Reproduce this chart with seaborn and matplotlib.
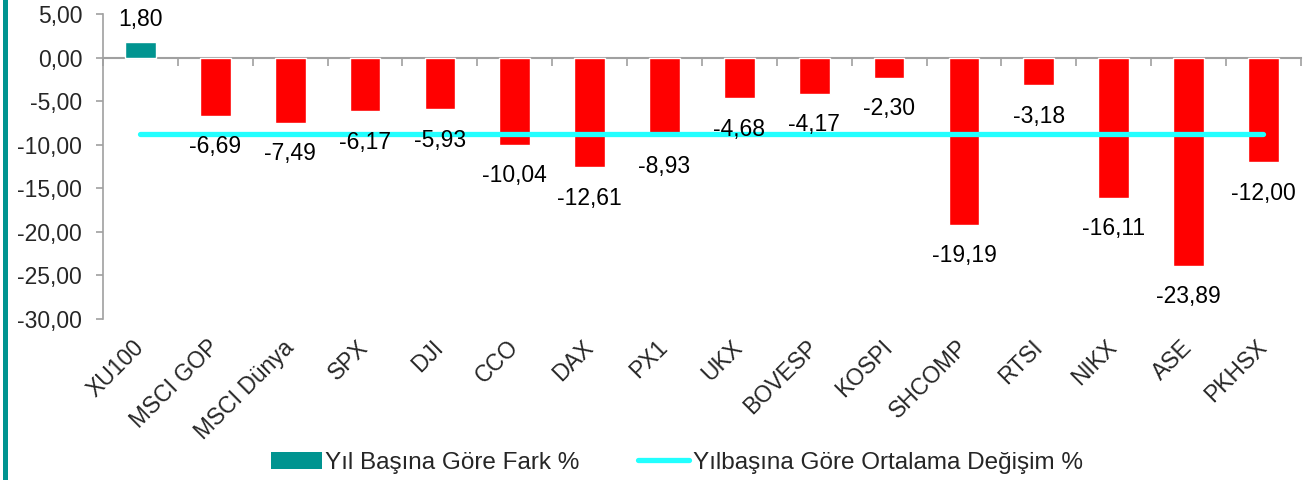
import numpy as np
import matplotlib
matplotlib.use("Agg")
import matplotlib.pyplot as plt
import seaborn as sns
from matplotlib.patches import Patch, Rectangle
from matplotlib.lines import Line2D
from matplotlib.ticker import FuncFormatter, FixedLocator, NullFormatter

# data
indices = ["XU100", "MSCI GOP", "MSCI Dünya", "SPX", "DJI", "CCO", "DAX", "PX1",
           "UKX", "BOVESP", "KOSPI", "SHCOMP", "RTSI", "NIKX", "ASE", "PKHSX"]
ytd_change = [1.80, -6.69, -7.49, -6.17, -5.93, -10.04, -12.61, -8.93,
              -4.68, -4.17, -2.30, -19.19, -3.18, -16.11, -23.89, -12.00]
avg_change = -8.8

bar_label_name = "Yıl Başına Göre Fark %"
line_label_name = "Yılbaşına Göre Ortalama Değişim %"

teal = "#009490"
red = "#FF0000"
cyan = "#22FFFF"
grey = "#A0A0A0"
fs = 16.5

sns.set_style("white")
plt.rcParams['font.family'] = ['Liberation Sans', 'DejaVu Sans']

fig = plt.figure(figsize=(13.14, 4.8), dpi=100)
ax = fig.add_axes([0.0784, 0.3354, 0.9116, 0.6356])

colors = [teal if v > 0 else red for v in ytd_change]
sns.barplot(x=indices, y=ytd_change, hue=indices, palette=colors, legend=False,
            width=0.41, saturation=1, ax=ax)

def fmt(v):
    return f"{v:.2f}".replace(".", ",")

# one container per bar (hue = category)
for cont in ax.containers:
    v = cont.datavalues[0]
    ax.bar_label(cont, labels=[fmt(v)], padding=7.5 if v > 0 else 14,
                 fontsize=fs, color="black", zorder=4)

n = len(indices)
ax.plot([0, n - 1], [avg_change, avg_change], color=cyan, lw=3.8,
        solid_capstyle="round", zorder=2.5)

ax.set_ylim(-30, 5)
ax.set_xlim(-0.5, n - 0.5)
ax.set_yticks(np.arange(-30, 5.1, 5))
ax.yaxis.set_major_formatter(FuncFormatter(lambda v, p: fmt(v)))
ax.tick_params(axis="y", direction="out", length=5, color=grey, width=1.2,
               labelsize=fs, pad=10, left=True)

for s in ["top", "right", "bottom"]:
    ax.spines[s].set_visible(False)
ax.spines["left"].set_color(grey)
ax.spines["left"].set_linewidth(1.2)

ax.set_xlabel("")
ax.set_ylabel("")
ax.tick_params(axis="x", length=0, labelsize=fs, pad=18)
for lab in ax.get_xticklabels():
    lab.set_rotation(45)
    lab.set_ha("right")
    lab.set_va("center")
    lab.set_rotation_mode("anchor")

# zero line with ticks between categories
sec = ax.secondary_xaxis(0, transform=ax.transData)
sec.spines["bottom"].set_color(grey)
sec.spines["bottom"].set_linewidth(1.5)
sec.xaxis.set_major_locator(FixedLocator(np.arange(-0.5, n, 1.0)))
sec.xaxis.set_major_formatter(NullFormatter())
sec.tick_params(axis="x", direction="out", length=5.5, color=grey, width=1.2)

handles = [Patch(facecolor=teal, edgecolor="none"),
           Line2D([0], [0], color=cyan, lw=3.8, solid_capstyle="round")]
fig.legend(handles, [bar_label_name, line_label_name], loc="center",
           bbox_to_anchor=(0.515, 0.036), ncol=2, frameon=False, fontsize=17.5,
           handlelength=2.1, handletextpad=0.15, columnspacing=2.4)

fig.add_artist(Rectangle((0.002, 0), 0.004, 1, transform=fig.transFigure,
                         facecolor=teal, edgecolor="none"))

fig.savefig("out.png", dpi=100)
